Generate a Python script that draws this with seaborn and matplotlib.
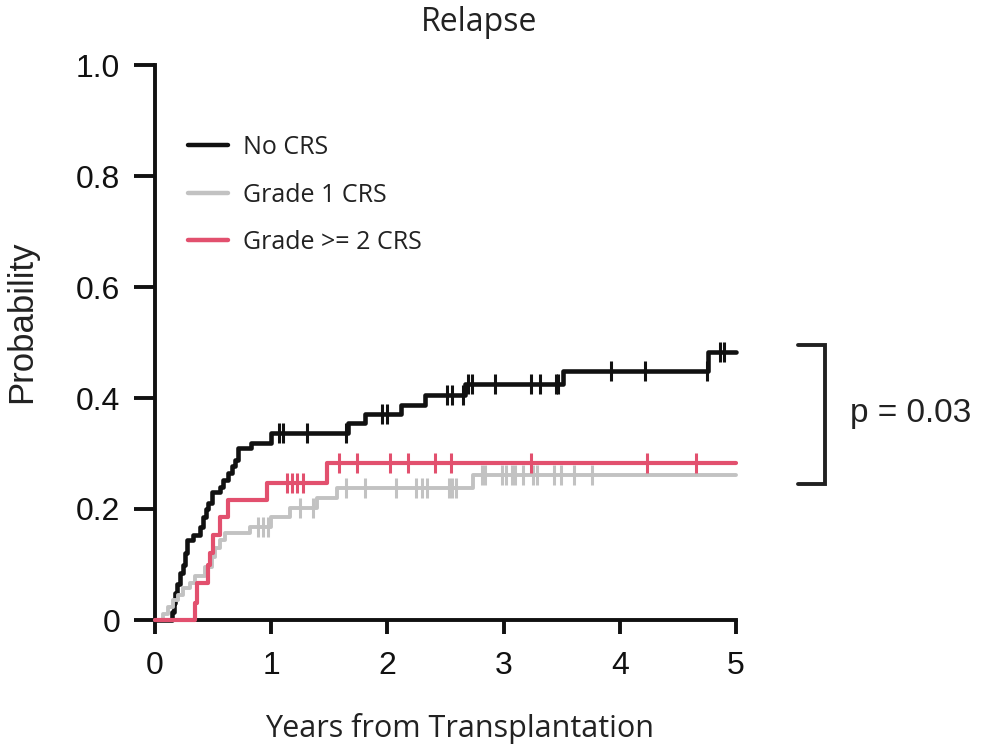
import numpy as np
import pandas as pd
import matplotlib
matplotlib.use("Agg")
import matplotlib.pyplot as plt
import matplotlib.transforms as mtransforms
from matplotlib.lines import Line2D
import seaborn as sns

# ---------------- data ----------------
groups = ["No CRS", "Grade 1 CRS", "Grade >= 2 CRS"]
colors = ["#111111", "#c2c2c2", "#e2506e"]

no_crs_t = [0.00, 0.15, 0.16, 0.17, 0.19, 0.215, 0.24, 0.26, 0.275, 0.33, 0.39, 0.41,
            0.44, 0.46, 0.49, 0.56, 0.585, 0.63, 0.66, 0.69, 0.71, 0.83, 1.00, 1.66,
            1.81, 2.12, 2.32, 2.67, 3.51, 4.76, 5.00]
no_crs_p = [0.000, 0.015, 0.030, 0.049, 0.065, 0.085, 0.100, 0.120, 0.144, 0.153, 0.168, 0.186,
            0.200, 0.210, 0.230, 0.240, 0.252, 0.265, 0.277, 0.288, 0.310, 0.319, 0.337, 0.355,
            0.372, 0.388, 0.406, 0.426, 0.449, 0.483, 0.483]
no_crs_cens = [1.07, 1.10, 1.31, 1.64, 1.95, 2.00, 2.51, 2.56, 2.65, 2.69, 2.73, 2.93,
               3.24, 3.31, 3.45, 3.47, 3.92, 4.22, 4.75, 4.86, 4.90]

g1_t = [0.00, 0.07, 0.11, 0.155, 0.20, 0.24, 0.30, 0.34, 0.43, 0.49, 0.52, 0.56, 0.60,
        0.82, 1.00, 1.16, 1.39, 1.57, 2.74, 5.00]
g1_p = [0.000, 0.010, 0.023, 0.036, 0.045, 0.058, 0.067, 0.080, 0.095, 0.113, 0.130, 0.144, 0.157,
        0.168, 0.186, 0.202, 0.220, 0.238, 0.261, 0.261]
g1_cens = [0.89, 0.93, 0.97, 1.25, 1.36, 1.64, 1.81, 2.07, 2.25, 2.30, 2.34, 2.53, 2.56, 2.59,
           2.81, 2.84, 2.99, 3.02, 3.07, 3.10, 3.17, 3.25, 3.29, 3.43, 3.49, 3.61, 3.76]

g2_t = [0.00, 0.34, 0.36, 0.46, 0.475, 0.50, 0.56, 0.63, 0.96, 1.48, 5.00]
g2_p = [0.000, 0.030, 0.066, 0.100, 0.120, 0.153, 0.186, 0.216, 0.246, 0.283, 0.283]
g2_cens = [1.14, 1.18, 1.22, 1.27, 1.58, 1.74, 2.02, 2.18, 2.41, 2.55, 3.24, 4.23, 4.66]

x_ticks = [0, 1, 2, 3, 4, 5]
y_ticks = [0, 0.2, 0.4, 0.6, 0.8, 1.0]
y_tick_labels = ["0", "0.2", "0.4", "0.6", "0.8", "1.0"]
p_text = "p = 0.03"

# ---------------- tables ----------------
series = [(no_crs_t, no_crs_p, no_crs_cens), (g1_t, g1_p, g1_cens), (g2_t, g2_p, g2_cens)]
curve_rows, cens_rows = [], []
for g, (t, p, c) in zip(groups, series):
    t = np.asarray(t); p = np.asarray(p)
    for ti, pi in zip(t, p):
        curve_rows.append((g, ti, pi))
    for ci in c:
        idx = np.searchsorted(t, ci, side="right") - 1
        cens_rows.append((g, ci, p[idx]))
curves = pd.DataFrame(curve_rows, columns=["group", "t", "p"])
cens = pd.DataFrame(cens_rows, columns=["group", "t", "p"])
palette = dict(zip(groups, colors))

# ---------------- figure ----------------
sns.set_style("ticks")
plt.rcParams["font.family"] = ["Liberation Sans", "DejaVu Sans"]
HUM = ["Open Sans", "DejaVu Sans"]

fig = plt.figure(figsize=(9.83, 7.52), dpi=100)
ax = fig.add_axes([155 / 983, 1 - 620 / 752, 581 / 983, 555 / 752])

lw = {"No CRS": 3.3, "Grade 1 CRS": 2.8, "Grade >= 2 CRS": 3.0}
for g in groups:
    sub = curves[curves.group == g]
    sns.lineplot(data=sub, x="t", y="p", color=palette[g], drawstyle="steps-post",
                 estimator=None, sort=False, linewidth=lw[g], ax=ax, legend=False,
                 clip_on=False, zorder=3)
    subc = cens[cens.group == g]
    sns.scatterplot(data=subc, x="t", y="p", color=palette[g], marker="|", s=220,
                    linewidth=2.2, ax=ax, legend=False, clip_on=False, zorder=4)

ax.set_xlim(0, 5)
ax.set_ylim(0, 1)
ax.set_xticks(x_ticks)
ax.set_xticklabels([str(v) for v in x_ticks])
ax.set_yticks(y_ticks)
ax.set_yticklabels(y_tick_labels)
for s in ["top", "right"]:
    ax.spines[s].set_visible(False)
for s in ["left", "bottom"]:
    ax.spines[s].set_linewidth(2.8)
    ax.spines[s].set_color("#111111")
ax.tick_params(axis="y", length=15, width=2.8, pad=10, labelsize=23, colors="#111111")
ax.tick_params(axis="x", length=10, width=2.8, pad=12, labelsize=23, colors="#111111")

ax.set_xlabel("Years from Transplantation", fontsize=22, family=HUM, color="#222222")
ax.xaxis.set_label_coords((460 - 155) / 581, (620 - 713) / 555)
ax.set_ylabel("Probability", fontsize=25, color="#222222")
ax.yaxis.set_label_coords((38 - 155) / 581, (620 - 322) / 555)

ax.text((479 - 155) / 581, (620 - 22) / 555, "Relapse", transform=ax.transAxes,
        ha="center", va="center", fontsize=23, family=HUM, color="#222222")

# legend
handles = [Line2D([], [], color=c, linewidth=3.2) for c in colors]
leg = ax.legend(handles, groups, loc="upper left",
                bbox_to_anchor=((188 - 155) / 581, (620 - 135) / 555),
                frameon=False, handlelength=1.6, handletextpad=0.6,
                labelspacing=0.90, borderpad=0, borderaxespad=0,
                prop={"family": HUM, "size": 18})
for txt in leg.get_texts():
    txt.set_color("#222222")

# p-value bracket
trans = mtransforms.blended_transform_factory(ax.transAxes, ax.transData)
xa, xb = (798 - 155) / 581, (825 - 155) / 581
ytop, ybot = (620 - 345) / 555, (620 - 484) / 555
ax.plot([xa, xb, xb, xa], [ytop, ytop, ybot, ybot], color="#222222", linewidth=2.8,
        transform=trans, clip_on=False, solid_joinstyle="miter")
ax.text((850 - 155) / 581, (620 - 422) / 555, p_text, transform=trans, ha="left",
        va="baseline", fontsize=24, color="#222222")

fig.savefig("out.png", dpi=100)
